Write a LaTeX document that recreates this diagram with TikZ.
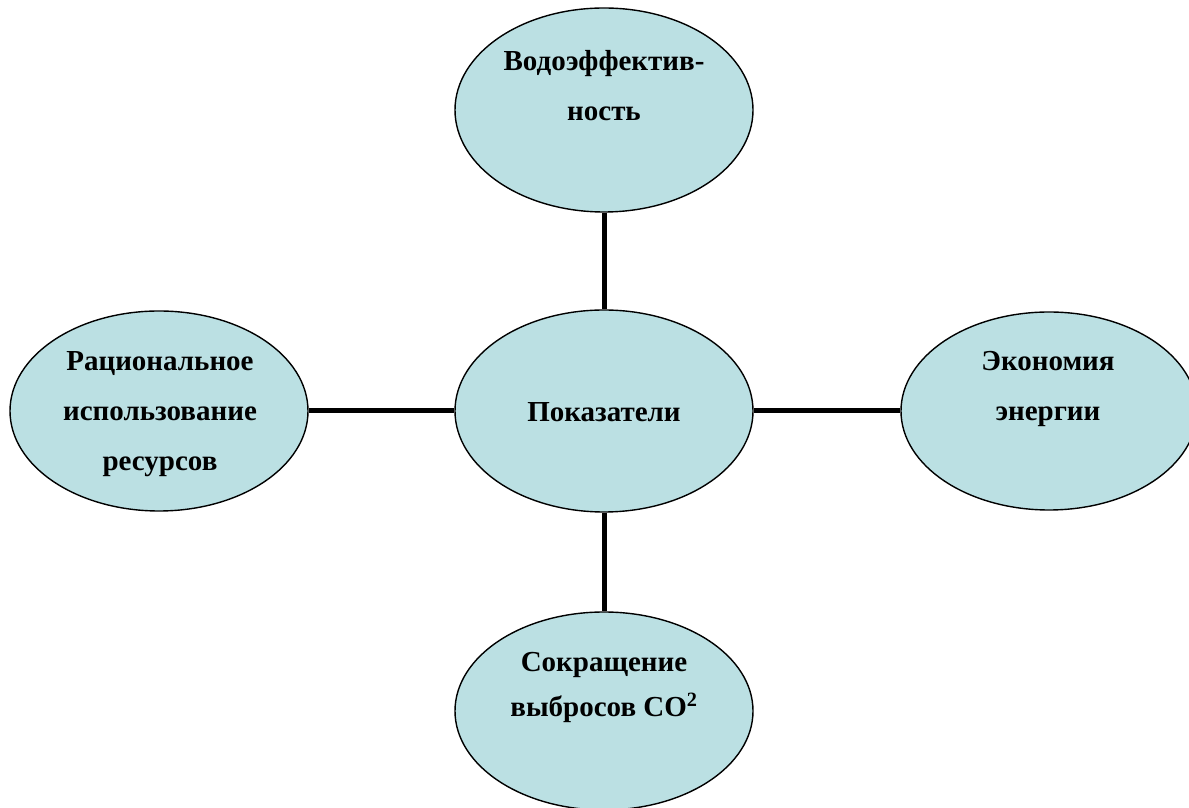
\documentclass[tikz,border=0pt]{standalone}
\usepackage{fontspec}
\setmainfont{Liberation Serif}
\usetikzlibrary{shapes.geometric}
\definecolor{ellfill}{HTML}{BBE0E3}
\tikzset{
  bubble/.style={ellipse, draw=black, line width=1.4pt, fill=ellfill, inner sep=0pt},
  lbl/.style={align=center, font=\bfseries\fontsize{29}{50}\selectfont, inner sep=0pt},
  link/.style={line width=5pt, black}
}
\begin{document}
\begin{tikzpicture}[x=1pt,y=1pt]
\useasboundingbox (0,0) rectangle (1189,808);
\node[bubble, minimum width=298pt, minimum height=204pt] (top) at (604,698) {};
\node[bubble, minimum width=298pt, minimum height=202pt] (mid) at (604,397) {};
\node[bubble, minimum width=298pt, minimum height=200pt] (left) at (159,397) {};
\node[bubble, minimum width=296pt, minimum height=198pt] (right) at (1049,397) {};
\node[bubble, minimum width=298pt, minimum height=198pt] (bot) at (604,97) {};
\draw[link] (top.south) -- (mid.north);
\draw[link] (mid.south) -- (bot.north);
\draw[link] (left.east) -- (mid.west);
\draw[link] (mid.east) -- (right.west);
\node[lbl] (ttop) at (604,722) {Водоэффектив-\\ность};
\node[lbl] (tmid) at (604,396) {Показатели};
\node[lbl] (tleft) at (160,394) {Рациональное\\использование\\ресурсов};
\node[lbl] (tright) at (1048,419) {Экономия\\энергии};
\node[lbl] (tbot) at (604,121) {Сокращение\\[-5pt]выбросов CO\textsuperscript{2}};
\end{tikzpicture}
\end{document}
